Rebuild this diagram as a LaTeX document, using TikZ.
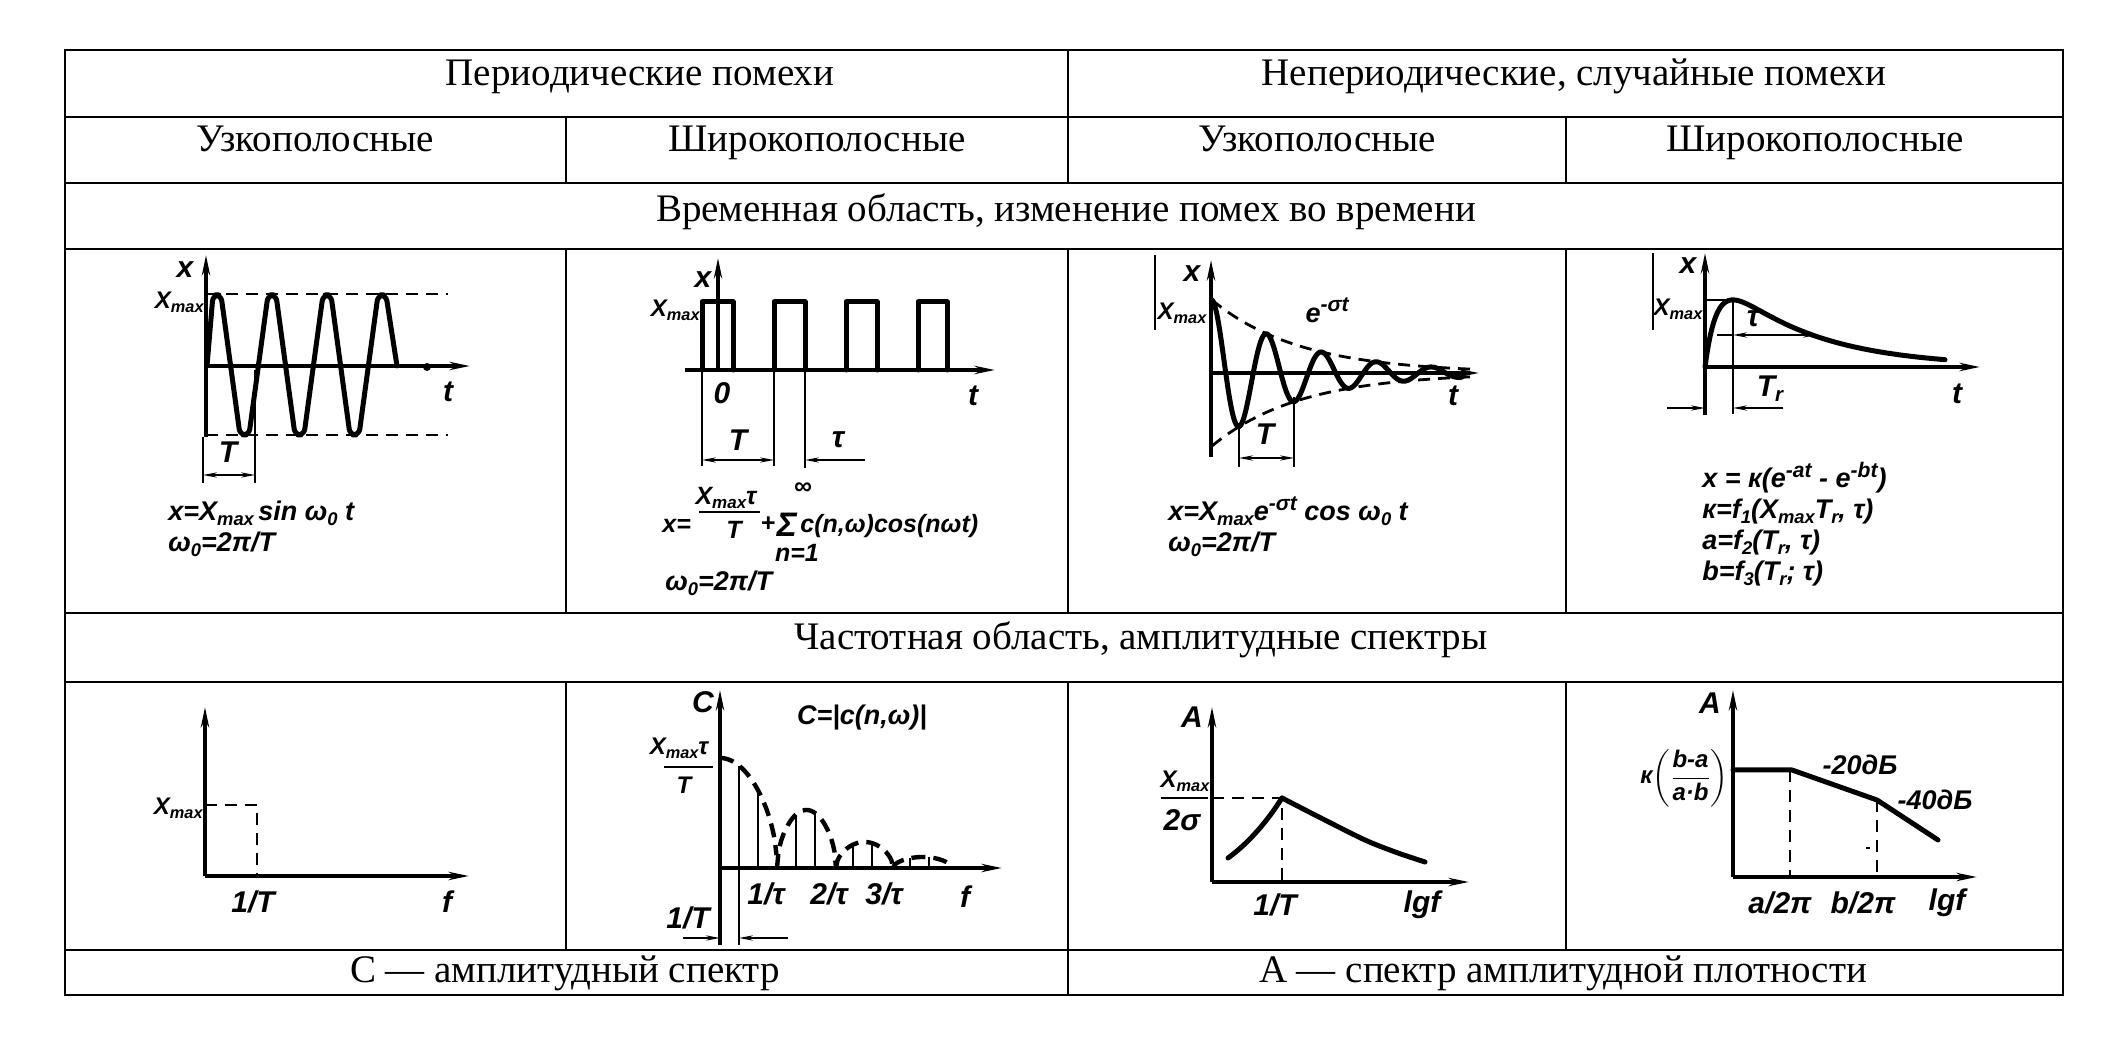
\documentclass[tikz,border=0pt]{standalone}
\usepackage{amsmath}
\usepackage{graphicx}
\usepackage{fontspec}
\setmainfont{Liberation Serif}
\newfontfamily\gost{Liberation Sans}
\usetikzlibrary{arrows.meta}
\newcommand\up[1]{\raisebox{0.75ex}{\scalebox{0.78}{#1}}}
\newcommand\dn[1]{\raisebox{-0.3ex}{\scalebox{0.68}{#1}}}
\newcommand\Xm{X\dn{max}}
\newcommand\Tr{T\dn{r}}
\tikzset{
  gridline/.style={line width=1.3pt},
  hdr/.style={font=\fontsize{19.5}{23}\selectfont, anchor=base, inner sep=0pt},
  lbl/.style={font=\gost\bfseries\itshape\fontsize{12}{14}\selectfont, inner sep=0pt},
  fml/.style={font=\gost\bfseries\itshape\fontsize{13.5}{16}\selectfont, inner sep=0pt},
  fmlsmall/.style={font=\gost\bfseries\itshape\fontsize{12.5}{14}\selectfont, inner sep=0pt},
  axlbl/.style={font=\gost\bfseries\itshape\fontsize{15}{17}\selectfont, inner sep=0pt},
  axisline/.style={line width=1.8pt, -{Stealth[length=10pt,width=4pt]}},
  curve/.style={line width=2.5pt, line cap=round, line join=round},
  dsh/.style={line width=1.4pt, dash pattern=on 6pt off 4pt},
  dshthick/.style={line width=2.2pt, dash pattern=on 7pt off 4pt},
  thinline/.style={line width=0.9pt},
  barline/.style={line width=1.2pt},
  dimto/.style={line width=0.9pt, -{Stealth[length=7pt,width=2.6pt]}},
  dimboth/.style={line width=0.9pt, {Stealth[length=7pt,width=2.6pt]}-{Stealth[length=7pt,width=2.6pt]}},
  artifact/.style={line width=0.6pt},
}
\begin{document}
\begin{tikzpicture}[x=0.5pt,y=-0.5pt]
\useasboundingbox (0,0) rectangle (2101,1042);
% ---------------- table grid ----------------
\draw[gridline] (65,50) rectangle (2063,995);
\foreach \yy in {117,183,249,613,682,950} \draw[gridline] (65,\yy) -- (2063,\yy);
\draw[gridline] (1068,50) -- (1068,183) (1068,249) -- (1068,613) (1068,682) -- (1068,995);
\draw[gridline] (566,117) -- (566,183) (566,249) -- (566,613) (566,682) -- (566,950);
\draw[gridline] (1566,117) -- (1566,183) (1566,249) -- (1566,613) (1566,682) -- (1566,950);
% ---------------- headers ----------------
\node[hdr] (h1) at (640,86) {Периодические помехи};
\node[hdr] (h2) at (1574,86) {Непериодические, случайные помехи};
\node[hdr] (h3) at (315,152) {Узкополосные};
\node[hdr] (h4) at (817,152) {Широкополосные};
\node[hdr] (h5) at (1317,152) {Узкополосные};
\node[hdr] (h6) at (1815,152) {Широкополосные};
\node[hdr] (h7) at (1066,222) {Временная область, изменение помех во времени};
\node[hdr] (h8) at (1141,650) {Частотная область, амплитудные спектры};
\node[hdr] (h9) at (565,982) {С — амплитудный спектр};
\node[hdr] (h10) at (1563,982) {А — спектр амплитудной плотности};

% ================= time row, cell 1 =================
\draw[thinline] (203,437) -- (203,483);
\draw[axisline] (206,437) -- (206,255);
\draw[axisline] (206,366) -- (470,366);
\fill (427,367) circle (4);
\draw[dsh] (206,294) -- (448,294);
\draw[dsh] (206,435) -- (448,435);
\draw[curve, rounded corners=3pt] (207,366) -- (213,295) -- (221,295) -- (240,435) -- (249,435) -- (268,295) -- (276,295) -- (295,435) -- (304,435) -- (323,295) -- (331,295) -- (350,435) -- (359,435) -- (378,295) -- (386,295) -- (397,366);
\draw[thinline] (255,370) -- (255,483);
\draw[dimboth] (203,475) -- (255,475);
\node[axlbl] (c1x) at (185,270) {x};
\node[lbl, anchor=east] (c1xm) at (204,302) {\Xm};
\node[axlbl] (c1t) at (448,392) {t};
\node[axlbl] (c1T) at (228,452) {T};
\node[fml, anchor=base west] (c1f1) at (168,521) {x=\Xm\,sin ω\dn{0} t};
\node[fml, anchor=base west] (c1f2) at (168,552) {ω\dn{0}=2π/T};

% ================= time row, cell 2 =================
\draw[axisline] (718,372) -- (718,258);
\draw[axisline] (685,370) -- (995,370);
\draw[curve] (702,370) -- (702,302) -- (733,302) -- (733,370);
\draw[curve] (774,370) -- (774,302) -- (805,302) -- (805,370);
\draw[curve] (846,370) -- (846,302) -- (877,302) -- (877,370);
\draw[curve] (918,370) -- (918,302) -- (947,302) -- (947,370);
\draw[thinline] (702,370) -- (702,466) (774,370) -- (774,466) (805,370) -- (805,468);
\draw[dimboth] (702,460) -- (774,460);
\draw[dimto] (865,460) -- (805,460);
\node[axlbl] (c2x) at (703,280) {x};
\node[lbl, anchor=east] (c2xm) at (700,310) {\Xm};
\node[axlbl] (c2t) at (973,396) {t};
\node[axlbl] (c2o) at (722,393) {0};
\node[axlbl] (c2T) at (738,440) {T};
\node[axlbl] (c2tau) at (838,440) {τ};
\node[fmlsmall, anchor=base west] (c2xeq) at (662,533) {x=};
\node[fmlsmall] (c2num) at (726,498) {\Xm τ};
\draw[barline] (699,512) -- (760,512);
\node[fmlsmall] (c2den) at (734,530) {T};
\node[fmlsmall] (c2plus) at (768,524) {+};
\node[fmlsmall, font=\gost\bfseries\itshape\fontsize{17}{17}\selectfont] (c2sig) at (787,525) {Σ};
\node[fmlsmall] (c2inf) at (803,489) {∞};
\node[fmlsmall] (c2n1) at (797,553) {n=1};
\node[fmlsmall, anchor=base west] (c2rest) at (800,533) {c(n,ω)cos(nωt)};
\node[fml, anchor=base west] (c2f2) at (665,591) {ω\dn{0}=2π/T};

% ================= time row, cell 3 =================
\draw[artifact] (1155,255) -- (1155,330);
\draw[axisline] (1211,457) -- (1211,260);
\draw[axisline] (1211,373) -- (1479,373);
\draw[dsh] plot[domain=0:265, samples=60] ({1212+\x},{373-73*exp(-\x/88)});
\draw[dsh] plot[domain=0:265, samples=60] ({1212+\x},{373+73*exp(-\x/88)});
\draw[curve] plot[domain=0:250, samples=260, smooth] ({1212+\x},{373-73*exp(-\x/88)*cos(6.54545*\x)});
\draw[thinline] (1239,423) -- (1239,467) (1294,397) -- (1294,467);
\draw[dimboth] (1239,458) -- (1294,458);
\node[axlbl] (c3x) at (1192,274) {x};
\node[lbl] (c3xm) at (1182,313) {\Xm};
\node[fml] (c3e) at (1327,310) {e\up{-σt}};
\node[axlbl] (c3t) at (1453,396) {t};
\node[axlbl] (c3T) at (1265,434) {T};
\node[fml, anchor=base west] (c3f1) at (1168,521) {x=\Xm e\up{-σt} cos ω\dn{0} t};
\node[fml, anchor=base west] (c3f2) at (1168,552) {ω\dn{0}=2π/T};

% ================= time row, cell 4 =================
\draw[artifact] (1653,253) -- (1653,330);
\draw[axisline] (1705,415) -- (1705,253);
\draw[axisline] (1705,367) -- (1980,367);
\draw[thinline] (1705,300) -- (1733,300);
\draw[curve] plot[domain=0:240, samples=200, smooth] ({1705+\x},{367-105.5*(exp(-\x/90)-exp(-\x/12))});
\draw[thinline] (1733,300) -- (1733,414);
\draw[thinline] (1717,335) -- (1733,335);
\draw[dimboth] (1733,335) -- (1817,335);
\draw[dimto] (1667,408) -- (1705,408);
\draw[dimto] (1783,408) -- (1733,408);
\node[axlbl] (c4x) at (1688,266) {x};
\node[lbl] (c4xm) at (1678,309) {\Xm};
\node[axlbl] (c4tau) at (1753,319) {τ};
\node[axlbl] (c4Tr) at (1770,389) {\Tr};
\node[axlbl] (c4t) at (1957,394) {t};
\node[fml, anchor=base west] (c4f1) at (1702,488) {x = к(e\up{-at} - e\up{-bt})};
\node[fml, anchor=base west] (c4f2) at (1702,519) {к=f\dn{1}(\Xm\Tr, τ)};
\node[fml, anchor=base west] (c4f3) at (1702,550) {a=f\dn{2}(\Tr, τ)};
\node[fml, anchor=base west] (c4f4) at (1702,581) {b=f\dn{3}(\Tr; τ)};

% ================= freq row, cell 1 =================
\draw[axisline] (205,876) -- (205,707);
\draw[axisline] (205,876) -- (469,876);
\draw[dsh] (205,805) -- (257,805) -- (257,876);
\node[lbl, anchor=east] (d1xm) at (203,808) {\Xm};
\node[axlbl] (d1T) at (253,902) {1/T};
\node[axlbl] (d1f) at (447,902) {f};

% ================= freq row, cell 2 =================
\draw[axisline] (720,945) -- (720,690);
\draw[axisline] (720,868) -- (1002,868);
\foreach \xx/\yy in {758/790,796/815,815/813,853/845,872/843,910/858,929/857}
  \draw[thinline] (\xx,868) -- (\xx,\yy);
\draw[thinline] (739,945) -- (739,766);
\draw[dshthick] plot[domain=0:56.5, samples=40] ({720+\x},{868-110*sqrt(abs(cos(90*\x/57)))});
\draw[dshthick] plot[domain=777:836, samples=40] (\x,{868-58*sqrt(abs(sin(180*(\x-777)/59)))});
\draw[dshthick] plot[domain=836:893, samples=40] (\x,{868-26*sqrt(abs(sin(180*(\x-836)/57)))});
\draw[dshthick] plot[domain=893:952, samples=40] (\x,{868-11*sqrt(abs(sin(180*(\x-893)/59)))});
\draw[dimto] (683,938) -- (720,938);
\draw[dimto] (788,938) -- (739,938);
\node[axlbl] (d2C) at (703,702) {C};
\node[fml] (d2eq) at (862,718) {C=|c(n,ω)|};
\node[lbl] (d2num) at (679,748) {\Xm τ};
\draw[barline] (664,767) -- (713,767);
\node[lbl] (d2den) at (684,785) {T};
\node[axlbl] (d2T) at (688,918) {1/T};
\node[axlbl] (d2a) at (766,894) {1/τ};
\node[axlbl] (d2b) at (829,894) {2/τ};
\node[axlbl] (d2c) at (884,894) {3/τ};
\node[axlbl] (d2f) at (965,897) {f};

% ================= freq row, cell 3 =================
\draw[axisline] (1212,882) -- (1212,707);
\draw[axisline] (1212,882) -- (1469,882);
\draw[dsh] (1212,798) -- (1282,798) -- (1282,882);
\draw[curve] (1228,858) .. controls (1250,842) and (1268,820) .. (1282,798);
\draw[curve] plot[smooth] coordinates {(1282,798) (1315,815) (1365,840) (1398,853) (1425,862)};
\node[axlbl] (d3A) at (1192,717) {A};
\node[lbl] (d3num) at (1185,781) {\Xm};
\draw[barline] (1161,798) -- (1208,798);
\node[axlbl] (d3den) at (1182,820) {2σ};
\node[axlbl] (d3T) at (1275,905) {1/T};
\node[axlbl] (d3lg) at (1422,905) {lgf};

% ================= freq row, cell 4 =================
\draw[axisline] (1733,877) -- (1733,690);
\draw[axisline] (1733,877) -- (1977,877);
\draw[curve] (1733,770) -- (1792,770) -- (1877,800) -- (1938,840);
\draw[dsh] (1790,770) -- (1790,877);
\draw[dsh] (1877,800) -- (1877,877);
\draw[thinline] (1866,848) -- (1870,848);
\node[axlbl] (d4A) at (1710,703) {A};
\node[lbl, anchor=east] (d4k) at (1729,778) {$\text{к}\!\left(\dfrac{\text{b-a}}{\text{a·b}}\right)$};
\node[fml] (d4m20) at (1860,765) {-20дБ};
\node[fml] (d4m40) at (1935,800) {-40дБ};
\node[axlbl] (d4a) at (1780,903) {a/2π};
\node[axlbl] (d4b) at (1863,903) {b/2π};
\node[axlbl] (d4lg) at (1947,903) {lgf};
\end{tikzpicture}
\end{document}
